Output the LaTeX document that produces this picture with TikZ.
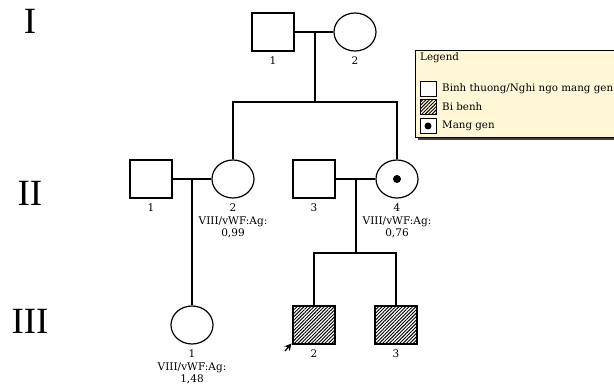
\documentclass[tikz,border=0pt]{standalone}
\usepackage{fontspec}
\setmainfont{DejaVu Serif}
\newfontfamily\romanfont{Liberation Serif}
\usetikzlibrary{shapes.geometric,patterns.meta,arrows.meta}
\definecolor{legendbg}{RGB}{255,247,214}
\tikzset{
  pline/.style={line width=1.2pt},
  male/.style={draw,line width=1.2pt,rectangle,minimum width=42pt,minimum height=38pt,inner sep=0pt,fill=white},
  female/.style={draw,line width=1.2pt,ellipse,minimum width=42pt,minimum height=38pt,inner sep=0pt,fill=white},
  affected/.style={pattern={Lines[angle=45,distance=2.4pt,line width=0.95pt]}},
  lbl/.style={font=\fontsize{10.5}{12.5}\selectfont,align=center,inner sep=0pt,anchor=north},
  gen/.style={font=\romanfont\fontsize{37}{37}\selectfont,inner sep=0pt},
  lgtext/.style={font=\fontsize{10.3}{11}\selectfont,anchor=west,inner sep=0pt},
  lgbox/.style={draw,line width=0.8pt,rectangle,minimum width=16pt,minimum height=15pt,inner sep=0pt,fill=white}
}
\begin{document}
\begin{tikzpicture}[x=1pt,y=-1pt]
\useasboundingbox (0,0) rectangle (614,390);
\clip (0,0) rectangle (614,390);
% generation labels
\node[gen] (gI) at (30,21) {I};
\node[gen] (gII) at (30,193) {II};
\node[gen] (gIII) at (30,321) {III};
% generation I
\node[male] (I1) at (273,32) {};
\node[female] (I2) at (355,32) {};
\coordinate (m1) at (315,32);
\coordinate (s1) at (315,102);
\draw[pline] (I1.east) -- (I2.west);
\draw[pline] (m1) -- (s1);
\node[lbl] (lI1) at ([yshift=-5pt]I1.south) {1};
\node[lbl] (lI2) at ([yshift=-5pt]I2.south) {2};
% generation II
\node[male] (II1) at (151,179) {};
\node[female] (II2) at (233,179) {};
\node[male] (II3) at (314,179) {};
\node[female] (II4) at (397,179) {};
\fill (II4.center) circle (4pt);
\draw[pline] (II2.north) |- (s1) -| (II4.north);
\draw[pline] (II1.east) -- (II2.west);
\draw[pline] (II3.east) -- (II4.west);
\coordinate (m2) at (192,179);
\coordinate (m3) at (356,179);
\coordinate (s3) at (356,253);
\node[lbl] (lII1) at ([yshift=-5pt]II1.south) {1};
\node[lbl] (lII2) at ([yshift=-5pt]II2.south) {2\\VIII/vWF:Ag:\\0,99};
\node[lbl] (lII3) at ([yshift=-5pt]II3.south) {3};
\node[lbl] (lII4) at ([yshift=-5pt]II4.south) {4\\VIII/vWF:Ag:\\0,76};
% generation III
\node[female] (III1) at (192,325) {};
\node[male,affected] (III2) at (314,325) {};
\node[male,affected] (III3) at (396,325) {};
\draw[pline] (m2) -- (III1.north);
\draw[pline] (m3) -- (s3);
\draw[pline] (III2.north) |- (s3) -| (III3.north);
\node[lbl] (lIII1) at ([yshift=-5pt]III1.south) {1\\VIII/vWF:Ag:\\1,48};
\node[lbl] (lIII2) at ([yshift=-5pt]III2.south) {2};
\node[lbl] (lIII3) at ([yshift=-5pt]III3.south) {3};
\coordinate (pa) at (285,351);
\draw[line width=1.3pt,-{Stealth[length=7pt,width=7pt]}] (pa) -- ([shift={(-1pt,1pt)}]III2.south west);
% legend
\fill[black!75] (418,53) rectangle (650,140);
\draw[line width=0.6pt,fill=legendbg] (415,50) rectangle (650,137);
\node[lgtext] (lgt) at (420,57.5) {Legend};
\node[lgbox] (b1) at (428,89) {};
\node[lgbox,affected] (b2) at (428,107) {};
\node[lgbox] (b3) at (428,126) {};
\fill (b3.center) circle (3.5pt);
\node[lgtext] (t1) at (442,89) {Binh thuong/Nghi ngo mang gen};
\node[lgtext] (t2) at (442,107) {Bi benh};
\node[lgtext] (t3) at (442,126) {Mang gen};
\end{tikzpicture}
\end{document}
